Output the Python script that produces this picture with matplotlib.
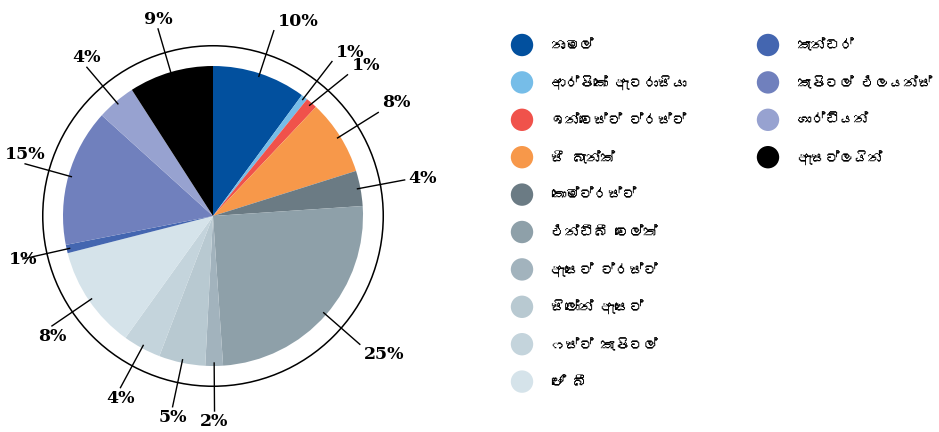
import numpy as np
import matplotlib
matplotlib.use("Agg")
import matplotlib.pyplot as plt
from matplotlib import font_manager
from matplotlib.ft2font import FT2Font
from matplotlib.patches import Circle

# slice names (clockwise from 12 o'clock), shares
names = ['නාමල්', 'ආර්පිකෝ ඇටරාසියා', 'ඉන්වෙස්ට් ට්‍රස්ට්', 'සී බැන්ක්', 'කොම්ට්‍රස්ට්',
         'එන්ඩීබී වෙල්ත්', 'ඇසෙට් ට්‍රස්ට්', 'සිලෝන් ඇසෙට්', 'ෆස්ට් කැපිටල්', 'ජේ බී',
         'කැන්ඩර්', 'කැපිටල් එලයන්ස්', 'ගාර්ඩියන්', 'ඇසට්ලයින්']
shares = [10.1, 0.7, 1.25, 8.1, 3.8, 25.0, 1.9, 5.0, 4.1, 11.1, 0.9, 14.8, 4.2, 9.1]
pct_labels = ['10%', '1%', '1%', '8%', '4%', '25%', '2%', '5%', '4%', '8%', '1%', '15%', '4%', '9%']
colors = ['#02509e', '#76bde8', '#f0524b', '#f7984a', '#6b7b84', '#8ea0a9', '#a2b3bd',
          '#b8c9d1', '#c4d4dc', '#d5e3ea', '#4466b0', '#7080bd', '#97a2d0', '#000000']

# look for any installed font that can draw Sinhala
sinhala_font = None
for f in font_manager.fontManager.ttflist:
    try:
        if 0x0DB1 in FT2Font(f.fname).get_charmap():
            sinhala_font = f.name
            break
    except Exception:
        pass
legend_family = [sinhala_font, 'Noto Sans', 'DejaVu Sans'] if sinhala_font else ['Noto Sans', 'DejaVu Sans']

fig = plt.figure(figsize=(9.39, 4.32), dpi=100)
ax = fig.add_axes([(213 - 216) / 939, 0, 432 / 939, 1])

wedges, _ = ax.pie(shares, colors=colors, startangle=90, counterclock=False, radius=1.0,
                   wedgeprops=dict(linewidth=0))
ax.add_patch(Circle((0, 0), 1.135, fill=False, edgecolor='black', linewidth=1.1))

# pie() sets its own limits, so set ours afterwards (1 unit = 150 px)
ax.set_xlim(-1.44, 1.44)
ax.set_ylim(-1.44, 1.44)
ax.set_aspect('equal')
ax.axis('off')

# leader lines: start at the slice middle, spread the outer ends of close neighbours
mids = [(w.theta1 + w.theta2) / 2 for w in wedges]
outs = []
for m in mids:
    if outs and abs(outs[-1] - m) < 6:
        m = outs[-1] - 6
    outs.append(m)

for m, o, lab in zip(mids, outs, pct_labels):
    a, b = np.deg2rad(m), np.deg2rad(o)
    x0, y0 = 0.98 * np.cos(a), 0.98 * np.sin(a)
    x1, y1 = 1.3 * np.cos(b), 1.3 * np.sin(b)
    ax.plot([x0, x1], [y0, y1], color='black', lw=1.0)
    c, s = np.cos(b), np.sin(b)
    if c > 0.3:
        ha, dx = 'left', 4
    else:
        ha, dx = 'center', 0
    if s > 0.25:
        va, dy = 'bottom', 1
    elif s < -0.25:
        va, dy = 'top', -2
    else:
        va, dy = 'center', -1 if s < 0 else 1
    ax.annotate(lab, (x1, y1), xytext=(dx, dy), textcoords='offset pixels', ha=ha, va=va,
                fontsize=12.5, fontweight='bold', family='DejaVu Serif')

# legend drawn by hand: 10 rows in the first column, the rest in the second
lax = fig.add_axes([0, 0, 1, 1])
lax.set_xlim(0, 939)
lax.set_ylim(432, 0)
lax.axis('off')
for i, (name, col) in enumerate(zip(names, colors)):
    colno, row = (0, i) if i < 10 else (1, i - 10)
    x = 522 if colno == 0 else 768
    y = 45 + row * 37.4
    lax.scatter([x], [y], s=260, color=col, edgecolors='none')
    lax.text(x + 29, y + 1, name.replace('\u200d', ''), ha='left', va='center',
             fontsize=10.3, family=legend_family)

fig.savefig('out.png', dpi=100)
